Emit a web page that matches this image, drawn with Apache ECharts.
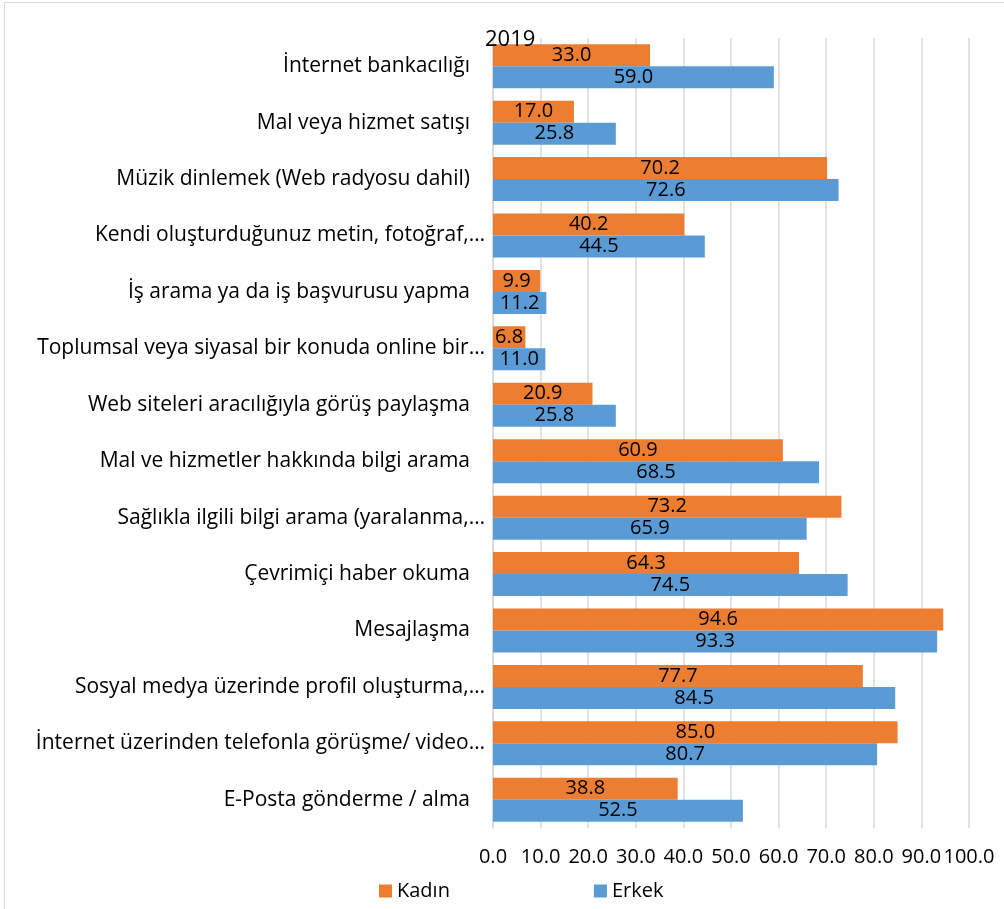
<!DOCTYPE html>
<html><head><meta charset="utf-8">
<script src="https://cdn.jsdelivr.net/npm/echarts@6/dist/echarts.min.js"></script>
<style>html,body{margin:0;padding:0;background:#fff}#c{width:1004px;height:909px}</style>
</head><body><div id="c"></div>
<script>
const categories = [
  "İnternet bankacılığı",
  "Mal veya hizmet satışı",
  "Müzik dinlemek (Web radyosu dahil)",
  "Kendi oluşturduğunuz metin, fotoğraf,…",
  "İş arama ya da iş başvurusu yapma",
  "Toplumsal veya siyasal bir konuda online bir…",
  "Web siteleri aracılığıyla görüş paylaşma",
  "Mal ve hizmetler hakkında bilgi arama",
  "Sağlıkla ilgili bilgi arama (yaralanma,…",
  "Çevrimiçi haber okuma",
  "Mesajlaşma",
  "Sosyal medya üzerinde profil oluşturma,…",
  "İnternet üzerinden telefonla görüşme/ video…",
  "E-Posta gönderme / alma"
];
const kadin = [33.0,17.0,70.2,40.2,9.9,6.8,20.9,60.9,73.2,64.3,94.6,77.7,85.0,38.8];
const erkek = [59.0,25.8,72.6,44.5,11.2,11.0,25.8,68.5,65.9,74.5,93.3,84.5,80.7,52.5];
const seriesNames = ["Kadın","Erkek"];
const titleText = "2019";

const FONT = "Open Sans";
const FS = 20;
const CFS = 21;
const chart = echarts.init(document.getElementById('c'));
const lbl = {show:true, position:'inside', color:'#000', fontFamily:FONT, fontSize:FS, formatter:p=>p.value.toFixed(1)};
chart.setOption({
  animation:false,
  textStyle:{fontFamily:FONT},
  title:{text:titleText, left:480, top:24, textStyle:{fontFamily:FONT, fontSize:22, fontWeight:'normal', color:'#000'}},
  graphic:[{type:'rect', shape:{x:4.5,y:2.5,width:1010,height:910}, style:{fill:'none', stroke:'#d9d9d9', lineWidth:1}, z:-1}],
  legend:{left:374, top:876, itemGap:144, itemWidth:13, itemHeight:13, icon:'rect',
    textStyle:{fontFamily:FONT, fontSize:FS, color:'#000'}, data:seriesNames},
  grid:{left:493, right:35, top:38, bottom:81},
  xAxis:{type:'value', min:0, max:100, interval:10,
    axisLine:{show:false}, axisTick:{show:false},
    splitLine:{show:true, lineStyle:{color:'#d9d9d9', width:1.5}},
    axisLabel:{color:'#000', fontFamily:FONT, fontSize:FS, margin:19, formatter:v=>v.toFixed(1)}},
  yAxis:{type:'category', inverse:true, data:categories,
    axisLine:{show:true, lineStyle:{color:'#d9d9d9', width:1.5}}, axisTick:{show:false},
    axisLabel:{color:'#000', fontFamily:FONT, fontSize:CFS, margin:8,
      formatter:v=> v.endsWith('…') ? v : '{n|'+v+'}',
      rich:{n:{fontFamily:FONT, fontSize:CFS, color:'#000', padding:[0,15,0,0]}}}},
  series:[
    {name:seriesNames[0], type:'bar', data:kadin, itemStyle:{color:'#ED7D31'}, barGap:'0%', barCategoryGap:'22%', label:lbl},
    {name:seriesNames[1], type:'bar', data:erkek, itemStyle:{color:'#5B9BD5'}, barGap:'0%', barCategoryGap:'22%', label:lbl}
  ]
});
</script></body></html>
